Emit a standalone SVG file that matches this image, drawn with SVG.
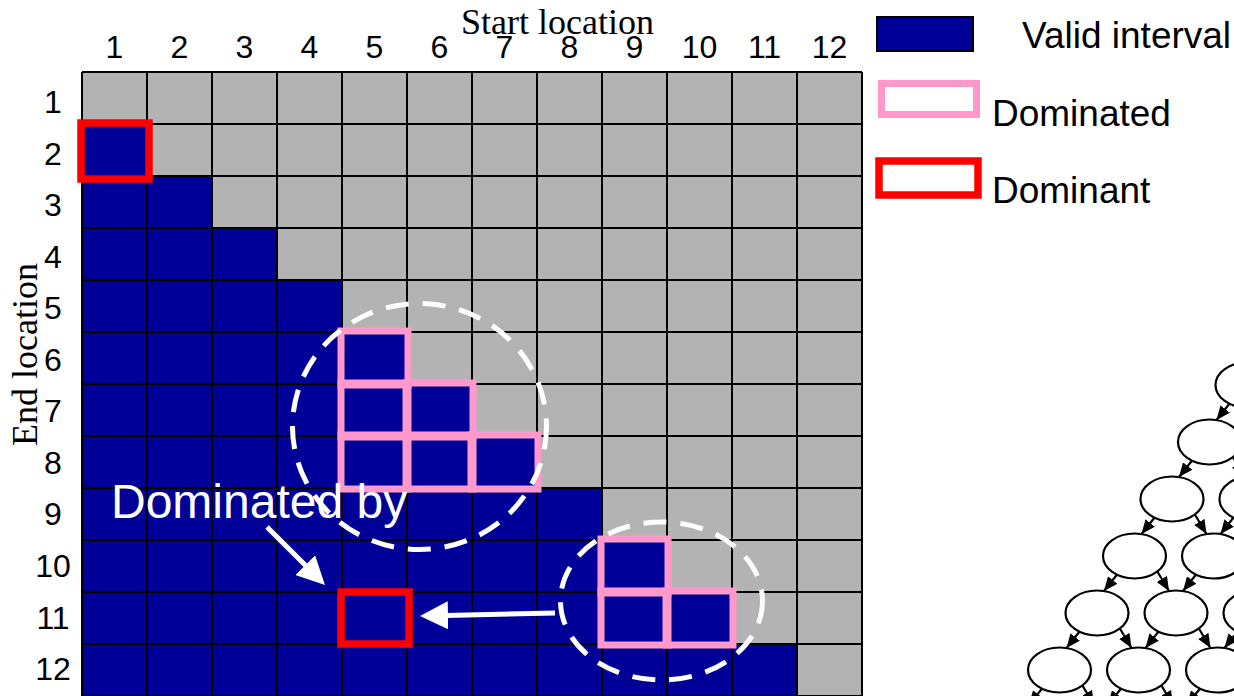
<svg xmlns="http://www.w3.org/2000/svg" width="1234" height="696" viewBox="0 0 1234 696">
<style>
.bg{fill:#fff}
.gray{fill:#b3b3b3}
.blue{fill:#000099}
.grid{fill:none;stroke:#000;stroke-width:2}
.pk{fill:none;stroke:#ff99cc;stroke-width:7}
.rd{fill:none;stroke:#ff0000;stroke-width:7.5}
.dash{fill:none;stroke:#fff;stroke-width:5;stroke-dasharray:23 14}
.num{font-family:"Liberation Sans",Arial,sans-serif;font-size:32px;text-anchor:middle;fill:#000}
.ser{font-family:"Liberation Serif","Times New Roman",serif;font-size:36px;fill:#000}
.leg{font-family:"Liberation Sans",Arial,sans-serif;font-size:37px;fill:#000}
.wt{font-family:"Liberation Sans",Arial,sans-serif;font-size:48px;fill:#fff}
.warr{stroke:#fff;stroke-width:5;fill:none;marker-end:url(#wa)}
.node{fill:#fff;stroke:#000;stroke-width:2.2}
.edge{stroke:#000;stroke-width:2.2;fill:none;marker-end:url(#ba)}
</style>
<defs>
<marker id="wa" markerUnits="userSpaceOnUse" markerWidth="28" markerHeight="28" refX="2" refY="14" orient="auto"><path d="M0,0 L28,14 L0,28 z" fill="#fff"/></marker>
<marker id="ba" markerUnits="userSpaceOnUse" markerWidth="14" markerHeight="12" refX="14" refY="6" orient="auto"><path d="M0,0 L14,6 L0,12 z" fill="#000"/></marker>
</defs>
<rect class="bg" x="0" y="0" width="1234" height="696"/>

<g id="matrix">
<rect class="gray" x="82" y="72" width="780" height="624"/>
<path class="blue" d="M82,124 H147 V176 H212 V228 H277 V280 H342 V332 H407 V384 H472 V436 H537 V488 H602 V540 H667 V592 H732 V644 H797 V696 H82 Z"/>
<path class="grid" d="M82,72V696 M147,72V696 M212,72V696 M277,72V696 M342,72V696 M407,72V696 M472,72V696 M537,72V696 M602,72V696 M667,72V696 M732,72V696 M797,72V696 M862,72V696 M82,72H862 M82,124H862 M82,176H862 M82,228H862 M82,280H862 M82,332H862 M82,384H862 M82,436H862 M82,488H862 M82,540H862 M82,592H862 M82,644H862 M82,696H862"/>
</g>

<g id="col-labels">
<text class="num" x="114.5" y="58">1</text>
<text class="num" x="179.5" y="58">2</text>
<text class="num" x="244.5" y="58">3</text>
<text class="num" x="309.5" y="58">4</text>
<text class="num" x="374.5" y="58">5</text>
<text class="num" x="439.5" y="58">6</text>
<text class="num" x="504.5" y="58">7</text>
<text class="num" x="569.5" y="58">8</text>
<text class="num" x="634.5" y="58">9</text>
<text class="num" x="699.5" y="58">10</text>
<text class="num" x="764.5" y="58">11</text>
<text class="num" x="829.5" y="58">12</text>
</g>
<g id="row-labels">
<text class="num" x="53" y="113">1</text>
<text class="num" x="53" y="164.6">2</text>
<text class="num" x="53" y="216.1">3</text>
<text class="num" x="53" y="267.7">4</text>
<text class="num" x="53" y="319.2">5</text>
<text class="num" x="53" y="370.8">6</text>
<text class="num" x="53" y="422.3">7</text>
<text class="num" x="53" y="473.9">8</text>
<text class="num" x="53" y="525.4">9</text>
<text class="num" x="53" y="577">10</text>
<text class="num" x="53" y="628.5">11</text>
<text class="num" x="53" y="680">12</text>
</g>
<text class="ser" x="461" y="34">Start location</text>
<text class="ser" text-anchor="middle" transform="translate(37,354.5) rotate(-90)">End location</text>

<g id="dominated-group-1">
<rect class="pk" x="341" y="331" width="67" height="54"/>
<rect class="pk" x="341" y="383" width="67" height="54"/>
<rect class="pk" x="406" y="383" width="67" height="54"/>
<rect class="pk" x="341" y="435" width="67" height="54"/>
<rect class="pk" x="406" y="435" width="67" height="54"/>
<rect class="pk" x="471" y="435" width="67" height="54"/>
</g>
<g id="dominated-group-2">
<rect class="pk" x="601" y="539" width="67" height="54"/>
<rect class="pk" x="601" y="591" width="67" height="54"/>
<rect class="pk" x="666" y="591" width="67" height="54"/>
</g>
<g id="dominant-cells">
<rect class="rd" x="81" y="123" width="68" height="56"/>
<rect class="rd" x="341" y="592" width="68" height="52"/>
</g>
<g id="clusters">
<ellipse class="dash" cx="419.5" cy="426.5" rx="127" ry="123"/>
<ellipse class="dash" cx="661.5" cy="601" rx="101" ry="79"/>
</g>
<text class="wt" x="111" y="518">Dominated by</text>
<g id="arrows">
<line class="warr" x1="267" y1="527" x2="306.6" y2="566.6"/>
<line class="warr" x1="555" y1="613" x2="446" y2="615.4"/>
</g>

<g id="legend">
<g id="legend-valid">
<rect x="877" y="17" width="96" height="34" fill="#000099" stroke="#000" stroke-width="2"/>
<text class="leg" x="1022" y="48">Valid interval</text>
</g>
<g id="legend-dominated">
<rect class="pk" x="881.5" y="83.5" width="95" height="31"/>
<text class="leg" x="992" y="126">Dominated</text>
</g>
<g id="legend-dominant">
<rect class="rd" x="879" y="161" width="99" height="34"/>
<text class="leg" x="992" y="203">Dominant</text>
</g>
</g>

<g id="connectors">
<line class="edge" x1="1230" y1="403" x2="1216.5" y2="420"/>
<line class="edge" x1="1192.5" y1="460" x2="1179" y2="477"/>
<line class="edge" x1="1232.5" y1="456" x2="1244" y2="477"/>
<line class="edge" x1="1155" y1="517" x2="1141.5" y2="534"/>
<line class="edge" x1="1194" y1="513" x2="1206.5" y2="534"/>
<line class="edge" x1="1234" y1="517" x2="1220.5" y2="534"/>
<line class="edge" x1="1117.5" y1="574" x2="1104" y2="591"/>
<line class="edge" x1="1156.5" y1="570" x2="1169" y2="591"/>
<line class="edge" x1="1196.5" y1="574" x2="1183" y2="591"/>
<line class="edge" x1="1080" y1="631" x2="1066.5" y2="648"/>
<line class="edge" x1="1119" y1="627" x2="1131.5" y2="648"/>
<line class="edge" x1="1159" y1="631" x2="1145.5" y2="648"/>
<line class="edge" x1="1198" y1="627" x2="1210.5" y2="648"/>
<line class="edge" x1="1238" y1="631" x2="1224.5" y2="648"/>
<line class="edge" x1="1042.5" y1="688" x2="1029" y2="705"/>
<line class="edge" x1="1081.5" y1="684" x2="1094" y2="705"/>
<line class="edge" x1="1121.5" y1="688" x2="1108" y2="705"/>
<line class="edge" x1="1160.5" y1="684" x2="1173" y2="705"/>
<line class="edge" x1="1200.5" y1="688" x2="1187" y2="705"/>
</g>
<g id="n0-0"><ellipse class="node" cx="1247" cy="385" rx="31.5" ry="22.5"/></g>
<g id="n1-0"><ellipse class="node" cx="1209.5" cy="442" rx="31.5" ry="22.5"/></g>
<g id="n2-0"><ellipse class="node" cx="1172" cy="499" rx="31.5" ry="22.5"/></g>
<g id="n2-1"><ellipse class="node" cx="1251" cy="499" rx="31.5" ry="22.5"/></g>
<g id="n3-0"><ellipse class="node" cx="1134.5" cy="556" rx="31.5" ry="22.5"/></g>
<g id="n3-1"><ellipse class="node" cx="1213.5" cy="556" rx="31.5" ry="22.5"/></g>
<g id="n4-0"><ellipse class="node" cx="1097" cy="613" rx="31.5" ry="22.5"/></g>
<g id="n4-1"><ellipse class="node" cx="1176" cy="613" rx="31.5" ry="22.5"/></g>
<g id="n4-2"><ellipse class="node" cx="1255" cy="613" rx="31.5" ry="22.5"/></g>
<g id="n5-0"><ellipse class="node" cx="1059.5" cy="670" rx="31.5" ry="22.5"/></g>
<g id="n5-1"><ellipse class="node" cx="1138.5" cy="670" rx="31.5" ry="22.5"/></g>
<g id="n5-2"><ellipse class="node" cx="1217.5" cy="670" rx="31.5" ry="22.5"/></g>
</svg>
